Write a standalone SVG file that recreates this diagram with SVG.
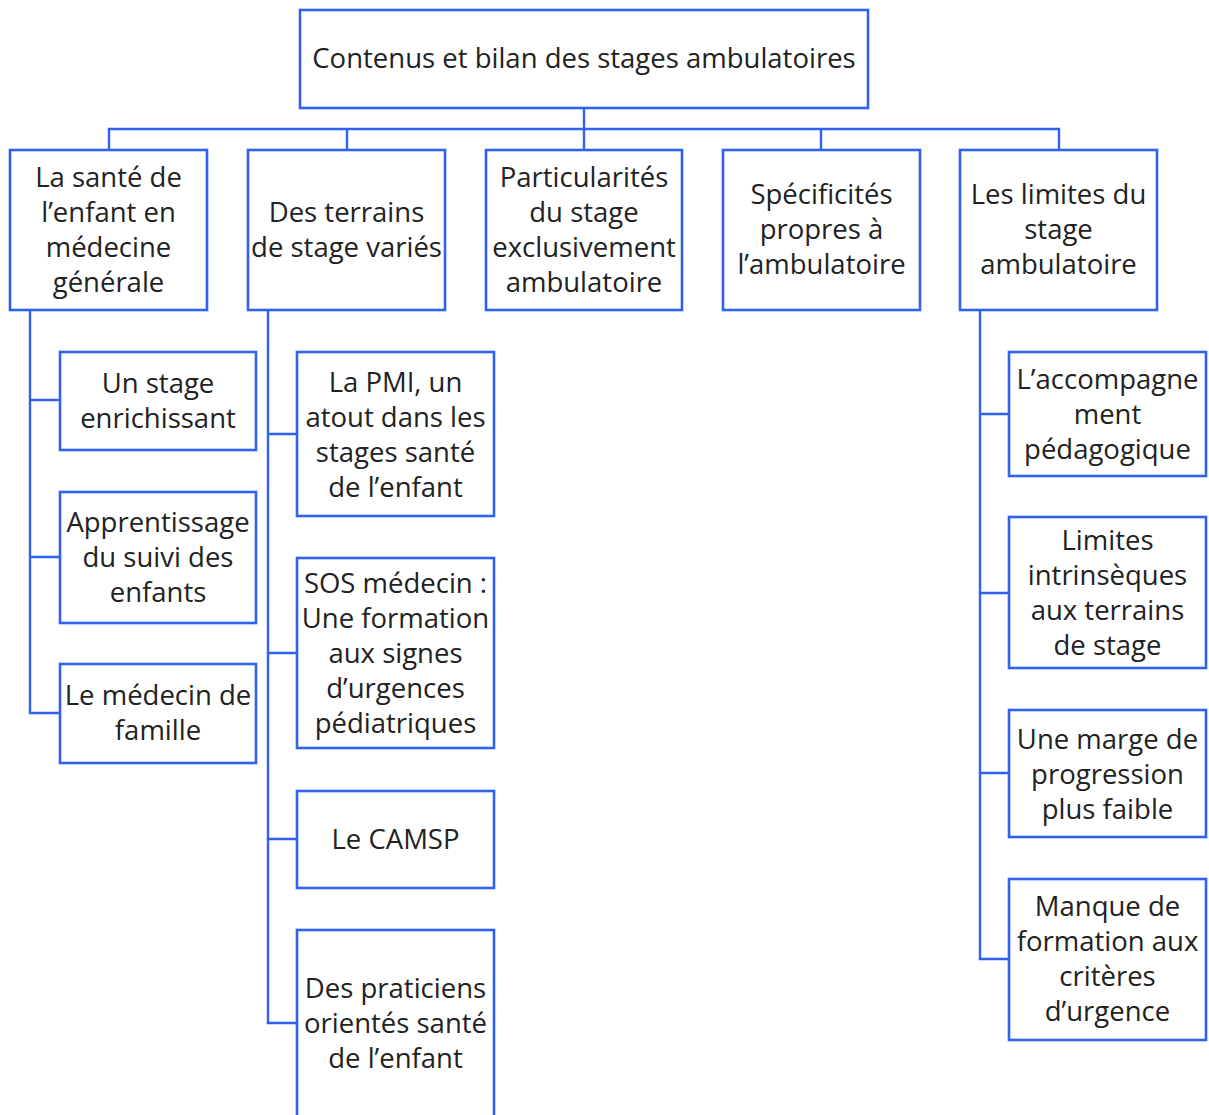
<svg xmlns="http://www.w3.org/2000/svg" width="1209" height="1115" viewBox="0 0 1209 1115">
  <style>
    .box { fill: #ffffff; stroke: #3062f2; stroke-width: 2.6; }
    .wire { fill: none; stroke: #3062f2; stroke-width: 2.4; }
    text { font-family: "Open Sans", "Liberation Sans", sans-serif; font-size: 27.5px; fill: #222222; text-anchor: middle; }
  </style>
  <rect width="1209" height="1115" fill="#ffffff"/>

  <!-- connectors -->
  <g id="connectors" class="wire">
    <path d="M584 108 V129 M109 150 V129 H1059 V150 M347 129 V150 M584 129 V150 M821 129 V150"/>
    <!-- branch: santé de l'enfant -->
    <path d="M30 310 V713 H60 M30 400 H60 M30 557 H60"/>
    <!-- branch: terrains de stage -->
    <path d="M268 310 V1023 H297 M268 434 H297 M268 653 H297 M268 839 H297"/>
    <!-- branch: limites -->
    <path d="M980 310 V959 H1009 M980 414 H1009 M980 593 H1009 M980 773 H1009"/>
  </g>

  <g id="root">
    <rect class="box" x="300" y="10" width="568" height="98"/>
    <text x="584" y="68">Contenus et bilan des stages ambulatoires</text>
  </g>

  <g id="sante-enfant">
    <rect class="box" x="10" y="150" width="197" height="160"/>
    <text x="108.5" y="186.5">La santé de</text>
    <text x="108.5" y="221.5">l’enfant en</text>
    <text x="108.5" y="256.5">médecine</text>
    <text x="108.5" y="291.5">générale</text>
  </g>

  <g id="terrains">
    <rect class="box" x="248" y="150" width="197" height="160"/>
    <text x="346.5" y="221.5">Des terrains</text>
    <text x="346.5" y="256.5">de stage variés</text>
  </g>

  <g id="particularites">
    <rect class="box" x="486" y="150" width="196" height="160"/>
    <text x="584" y="186.5">Particularités</text>
    <text x="584" y="221.5">du stage</text>
    <text x="584" y="256.5">exclusivement</text>
    <text x="584" y="291.5">ambulatoire</text>
  </g>

  <g id="specificites">
    <rect class="box" x="723" y="150" width="197" height="160"/>
    <text x="821.5" y="204">Spécificités</text>
    <text x="821.5" y="239">propres à</text>
    <text x="821.5" y="274">l’ambulatoire</text>
  </g>

  <g id="limites">
    <rect class="box" x="960" y="150" width="197" height="160"/>
    <text x="1058.5" y="204">Les limites du</text>
    <text x="1058.5" y="239">stage</text>
    <text x="1058.5" y="274">ambulatoire</text>
  </g>

  <!-- children of "La santé de l'enfant" -->
  <g id="stage-enrichissant">
    <rect class="box" x="60" y="352" width="196" height="98"/>
    <text x="158" y="393">Un stage</text>
    <text x="158" y="428">enrichissant</text>
  </g>
  <g id="suivi-enfants">
    <rect class="box" x="60" y="492" width="196" height="131"/>
    <text x="158" y="531.5">Apprentissage</text>
    <text x="158" y="566.5">du suivi des</text>
    <text x="158" y="601.5">enfants</text>
  </g>
  <g id="medecin-famille">
    <rect class="box" x="60" y="664" width="196" height="99"/>
    <text x="158" y="705">Le médecin de</text>
    <text x="158" y="740">famille</text>
  </g>

  <!-- children of "Des terrains de stage variés" -->
  <g id="pmi">
    <rect class="box" x="297" y="352" width="197" height="164"/>
    <text x="395.5" y="391.5">La PMI, un</text>
    <text x="395.5" y="426.5">atout dans les</text>
    <text x="395.5" y="461.5">stages santé</text>
    <text x="395.5" y="496.5">de l’enfant</text>
  </g>
  <g id="sos-medecin">
    <rect class="box" x="297" y="558" width="197" height="190"/>
    <text x="395.5" y="592.5">SOS médecin :</text>
    <text x="395.5" y="627.5">Une formation</text>
    <text x="395.5" y="662.5">aux signes</text>
    <text x="395.5" y="697.5">d’urgences</text>
    <text x="395.5" y="732.5">pédiatriques</text>
  </g>
  <g id="camsp">
    <rect class="box" x="297" y="791" width="197" height="97"/>
    <text x="395.5" y="849">Le CAMSP</text>
  </g>
  <g id="praticiens">
    <rect class="box" x="297" y="930" width="197" height="188"/>
    <text x="395.5" y="998">Des praticiens</text>
    <text x="395.5" y="1033">orientés santé</text>
    <text x="395.5" y="1068">de l’enfant</text>
  </g>

  <!-- children of "Les limites du stage ambulatoire" -->
  <g id="accompagnement">
    <rect class="box" x="1009" y="352" width="197" height="124"/>
    <text x="1107.5" y="388.5">L’accompagne</text>
    <text x="1107.5" y="423.5">ment</text>
    <text x="1107.5" y="458.5">pédagogique</text>
  </g>
  <g id="limites-intrinseques">
    <rect class="box" x="1009" y="517" width="197" height="151"/>
    <text x="1107.5" y="550">Limites</text>
    <text x="1107.5" y="585">intrinsèques</text>
    <text x="1107.5" y="620">aux terrains</text>
    <text x="1107.5" y="655">de stage</text>
  </g>
  <g id="marge-progression">
    <rect class="box" x="1009" y="710" width="197" height="127"/>
    <text x="1107.5" y="748.5">Une marge de</text>
    <text x="1107.5" y="783.5">progression</text>
    <text x="1107.5" y="818.5">plus faible</text>
  </g>
  <g id="criteres-urgence">
    <rect class="box" x="1009" y="879" width="197" height="161"/>
    <text x="1107.5" y="916">Manque de</text>
    <text x="1107.5" y="951">formation aux</text>
    <text x="1107.5" y="986">critères</text>
    <text x="1107.5" y="1021">d’urgence</text>
  </g>
</svg>
